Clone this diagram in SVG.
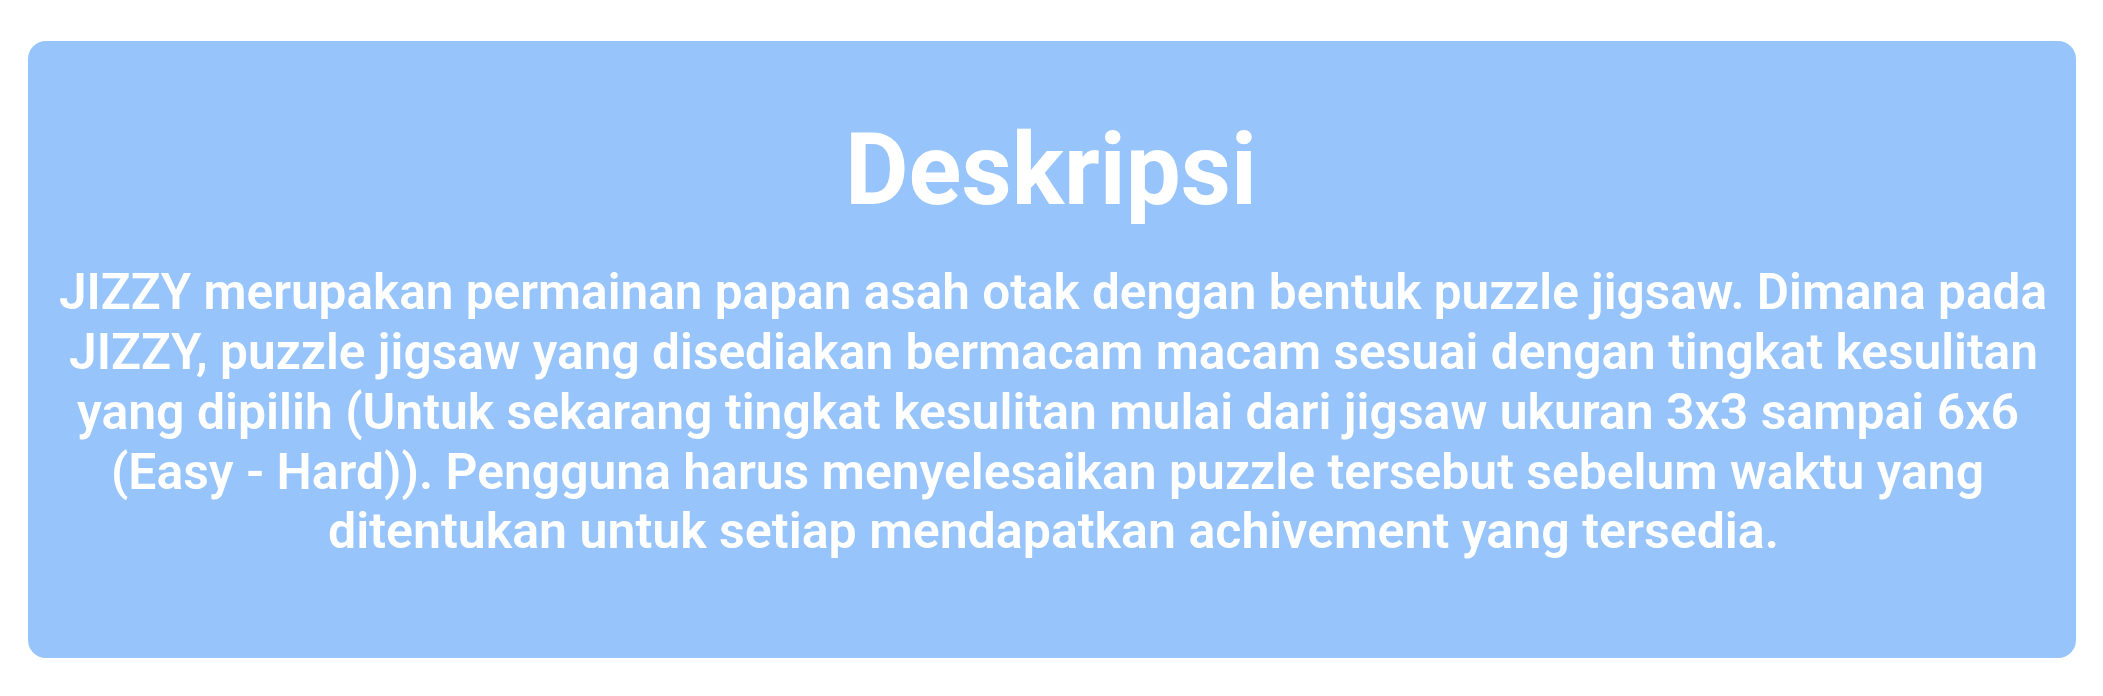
<svg xmlns="http://www.w3.org/2000/svg" width="2103" height="696" viewBox="0 0 2103 696">
<style>
.box{fill:#97C4FB}
.title{font-family:Roboto,"Liberation Sans",sans-serif;font-weight:700;font-size:101px;fill:#FFFFFF}
.body{font-family:Roboto,"Liberation Sans",sans-serif;font-weight:600;font-size:50px;fill:#FFFFFF}
</style>
<rect x="0" y="0" width="2103" height="696" fill="#FFFFFF"/>
<g id="deskripsi">
<rect class="box" x="28" y="41" width="2048" height="617" rx="18" ry="18"/>
<text class="title" x="845" y="204" textLength="412" lengthAdjust="spacingAndGlyphs">Deskripsi</text>
<text class="body" x="59" y="309" textLength="1988" lengthAdjust="spacingAndGlyphs">JIZZY merupakan permainan papan asah otak dengan bentuk puzzle jigsaw. Dimana pada</text>
<text class="body" x="69" y="369" textLength="1969" lengthAdjust="spacingAndGlyphs">JIZZY, puzzle jigsaw yang disediakan bermacam macam sesuai dengan tingkat kesulitan</text>
<text class="body" x="77" y="429" textLength="1942" lengthAdjust="spacingAndGlyphs">yang dipilih (Untuk sekarang tingkat kesulitan mulai dari jigsaw ukuran 3x3 sampai 6x6</text>
<text class="body" x="111" y="489" textLength="1873" lengthAdjust="spacingAndGlyphs">(Easy - Hard)). Pengguna harus menyelesaikan puzzle tersebut sebelum waktu yang</text>
<text class="body" x="328" y="548" textLength="1451" lengthAdjust="spacingAndGlyphs">ditentukan untuk setiap mendapatkan achivement yang tersedia.</text>
</g>
</svg>
